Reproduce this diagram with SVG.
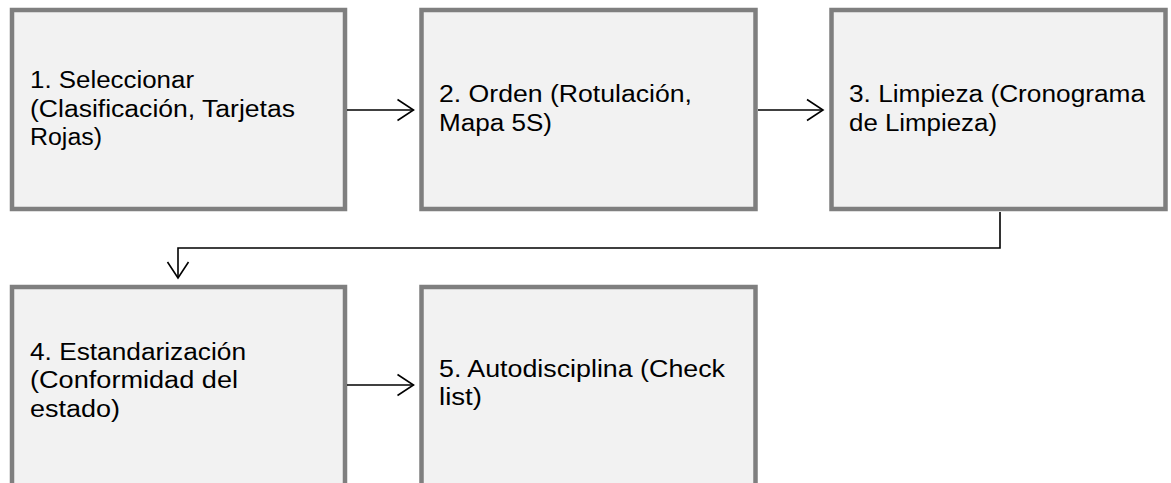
<svg xmlns="http://www.w3.org/2000/svg" width="1171" height="483" viewBox="0 0 1171 483">
<defs>
<style>
.box{fill:#f2f2f2;stroke:#7f7f7f;stroke-width:4.5}
.lbl{font-family:"Liberation Sans",Arial,sans-serif;font-size:23px;fill:#000}
.con{fill:none;stroke:#000;stroke-width:1.6}
</style>
<marker id="arr" viewBox="0 0 20 24" refX="18" refY="12" markerWidth="20" markerHeight="24" markerUnits="userSpaceOnUse" orient="auto">
<path d="M2,1.5 L18,12 L2,22.5" fill="none" stroke="#000" stroke-width="1.6"/>
</marker>
</defs>
<rect width="1171" height="483" fill="#fff"/>
<g id="node1">
<rect class="box" x="12" y="10" width="333" height="199"/>
<text class="lbl"><tspan x="30" y="88" textLength="164" lengthAdjust="spacingAndGlyphs">1. Seleccionar</tspan></text>
<text class="lbl"><tspan x="30" y="117" textLength="265" lengthAdjust="spacingAndGlyphs">(Clasificación, Tarjetas</tspan></text>
<text class="lbl"><tspan x="30" y="145" textLength="72" lengthAdjust="spacingAndGlyphs">Rojas)</tspan></text>
</g>
<g id="node2">
<rect class="box" x="421.5" y="10" width="334" height="199"/>
<text class="lbl"><tspan x="439" y="102" textLength="253" lengthAdjust="spacingAndGlyphs">2. Orden (Rotulación,</tspan></text>
<text class="lbl"><tspan x="439" y="131" textLength="113" lengthAdjust="spacingAndGlyphs">Mapa 5S)</tspan></text>
</g>
<g id="node3">
<rect class="box" x="831.5" y="10" width="334" height="199"/>
<text class="lbl"><tspan x="849" y="102" textLength="296" lengthAdjust="spacingAndGlyphs">3. Limpieza (Cronograma</tspan></text>
<text class="lbl"><tspan x="849" y="131" textLength="148" lengthAdjust="spacingAndGlyphs">de Limpieza)</tspan></text>
</g>
<g id="node4">
<rect class="box" x="12" y="287" width="333" height="199"/>
<text class="lbl"><tspan x="30" y="360" textLength="216" lengthAdjust="spacingAndGlyphs">4. Estandarización</tspan></text>
<text class="lbl"><tspan x="30" y="388" textLength="208" lengthAdjust="spacingAndGlyphs">(Conformidad del</tspan></text>
<text class="lbl"><tspan x="30" y="417" textLength="90" lengthAdjust="spacingAndGlyphs">estado)</tspan></text>
</g>
<g id="node5">
<rect class="box" x="421.5" y="287" width="334" height="199"/>
<text class="lbl"><tspan x="439" y="377" textLength="286" lengthAdjust="spacingAndGlyphs">5. Autodisciplina (Check</tspan></text>
<text class="lbl"><tspan x="439" y="405" textLength="43" lengthAdjust="spacingAndGlyphs">list)</tspan></text>
</g>
<g id="connectors">
<path class="con" d="M347,110 H413.5" marker-end="url(#arr)"/>
<path class="con" d="M758,110 H823" marker-end="url(#arr)"/>
<path class="con" d="M1000,212 V248 H178 V278" marker-end="url(#arr)"/>
<path class="con" d="M347,385 H413.5" marker-end="url(#arr)"/>
</g>
</svg>
